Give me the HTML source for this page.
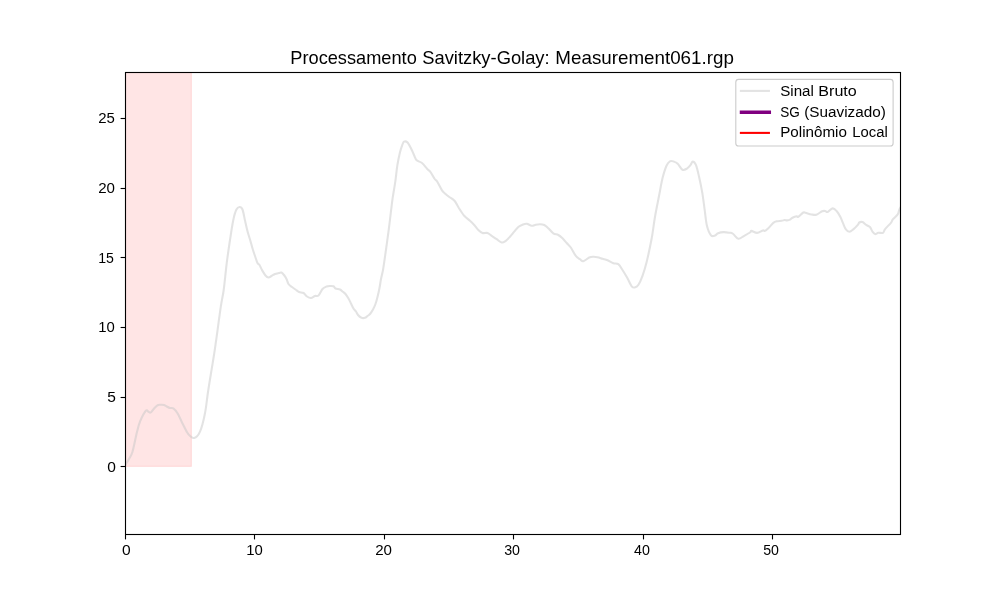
<!DOCTYPE html>
<html><head><meta charset="utf-8"><style>
html,body{margin:0;padding:0;background:#fff;}
body{width:1000px;height:600px;overflow:hidden;}
svg{display:block;will-change:transform;font-family:"Liberation Sans", sans-serif;}
text{fill:#000;}
</style></head><body>
<svg width="1000" height="600" viewBox="0 0 1000 600">
<defs><clipPath id="ax"><rect x="125" y="72" width="775" height="462"/></clipPath></defs>
<rect width="1000" height="600" fill="#fff"/>
<g clip-path="url(#ax)"><rect x="124" y="60" width="67.35" height="406.35" fill="#ff0000" fill-opacity="0.1" stroke="#ff0000" stroke-opacity="0.1" stroke-width="1.1"/></g>
<g clip-path="url(#ax)"><path d="M125.50,464.50 C126.08,463.58 127.83,461.13 129.00,459.00 C130.17,456.87 131.22,455.98 132.50,451.70 C133.78,447.42 135.45,438.30 136.70,433.30 C137.95,428.30 138.48,425.45 140.00,421.70 C141.52,417.95 144.38,412.45 145.80,410.80 C147.22,409.15 147.67,411.52 148.50,411.80 C149.33,412.08 149.72,413.22 150.80,412.50 C151.88,411.78 153.77,408.75 155.00,407.50 C156.23,406.25 157.17,405.45 158.20,405.00 C159.23,404.55 160.23,404.80 161.20,404.80 C162.17,404.80 163.15,404.77 164.00,405.00 C164.85,405.23 165.30,405.70 166.30,406.20 C167.30,406.70 168.83,407.65 170.00,408.00 C171.17,408.35 172.05,407.42 173.30,408.30 C174.55,409.18 175.83,410.52 177.50,413.30 C179.17,416.08 181.50,421.52 183.30,425.00 C185.10,428.48 186.48,432.03 188.30,434.20 C190.12,436.37 192.25,438.42 194.20,438.00 C196.15,437.58 198.20,435.82 200.00,431.70 C201.80,427.58 203.62,420.25 205.00,413.30 C206.38,406.35 206.63,400.83 208.30,390.00 C209.97,379.17 212.92,362.18 215.00,348.30 C217.08,334.42 219.35,316.42 220.80,306.70 C222.25,296.98 222.72,297.23 223.70,290.00 C224.68,282.77 225.65,271.63 226.70,263.30 C227.75,254.97 228.90,247.22 230.00,240.00 C231.10,232.78 232.25,225.03 233.30,220.00 C234.35,214.97 235.25,211.97 236.30,209.80 C237.35,207.63 238.57,207.05 239.60,207.00 C240.63,206.95 241.60,207.25 242.50,209.50 C243.40,211.75 244.17,216.88 245.00,220.50 C245.83,224.12 246.62,227.87 247.50,231.20 C248.38,234.53 249.38,237.37 250.30,240.50 C251.22,243.63 252.22,247.42 253.00,250.00 C253.78,252.58 254.25,253.83 255.00,256.00 C255.75,258.17 256.75,261.50 257.50,263.00 C258.25,264.50 258.75,263.83 259.50,265.00 C260.25,266.17 261.00,268.25 262.00,270.00 C263.00,271.75 264.42,274.25 265.50,275.50 C266.58,276.75 267.50,277.42 268.50,277.50 C269.50,277.58 270.42,276.58 271.50,276.00 C272.58,275.42 273.75,274.50 275.00,274.00 C276.25,273.50 277.92,273.25 279.00,273.00 C280.08,272.75 280.67,272.17 281.50,272.50 C282.33,272.83 283.17,273.92 284.00,275.00 C284.83,276.08 285.75,277.50 286.50,279.00 C287.25,280.50 287.58,282.67 288.50,284.00 C289.42,285.33 290.83,286.08 292.00,287.00 C293.17,287.92 294.33,288.67 295.50,289.50 C296.67,290.33 297.67,291.42 299.00,292.00 C300.33,292.58 302.17,292.25 303.50,293.00 C304.83,293.75 305.75,295.67 307.00,296.50 C308.25,297.33 309.67,298.08 311.00,298.00 C312.33,297.92 313.75,296.42 315.00,296.00 C316.25,295.58 317.25,296.67 318.50,295.50 C319.75,294.33 321.17,290.50 322.50,289.00 C323.83,287.50 325.25,287.00 326.50,286.50 C327.75,286.00 328.83,286.03 330.00,286.00 C331.17,285.97 332.58,285.88 333.50,286.30 C334.42,286.72 334.42,287.97 335.50,288.50 C336.58,289.03 338.83,289.00 340.00,289.50 C341.17,290.00 341.58,290.75 342.50,291.50 C343.42,292.25 344.50,292.83 345.50,294.00 C346.50,295.17 347.58,296.92 348.50,298.50 C349.42,300.08 350.17,301.83 351.00,303.50 C351.83,305.17 352.67,307.17 353.50,308.50 C354.33,309.83 355.25,310.42 356.00,311.50 C356.75,312.58 357.08,313.95 358.00,315.00 C358.92,316.05 360.33,317.33 361.50,317.80 C362.67,318.27 364.00,318.10 365.00,317.80 C366.00,317.50 366.67,316.63 367.50,316.00 C368.33,315.37 369.08,315.08 370.00,314.00 C370.92,312.92 372.08,311.17 373.00,309.50 C373.92,307.83 374.75,306.08 375.50,304.00 C376.25,301.92 376.83,299.67 377.50,297.00 C378.17,294.33 378.92,291.00 379.50,288.00 C380.08,285.00 380.42,282.00 381.00,279.00 C381.58,276.00 382.33,273.72 383.00,270.00 C383.67,266.28 384.05,263.37 385.00,256.70 C385.95,250.03 387.75,237.17 388.70,230.00 C389.65,222.83 390.03,219.08 390.70,213.70 C391.37,208.32 391.93,203.03 392.70,197.70 C393.47,192.37 394.53,187.03 395.30,181.70 C396.07,176.37 396.52,170.60 397.30,165.70 C398.08,160.80 399.17,155.75 400.00,152.30 C400.83,148.85 401.63,146.77 402.30,145.00 C402.97,143.23 403.17,142.15 404.00,141.70 C404.83,141.25 406.08,141.08 407.30,142.30 C408.52,143.52 410.18,146.88 411.30,149.00 C412.42,151.12 413.10,153.12 414.00,155.00 C414.90,156.88 415.37,158.97 416.70,160.30 C418.03,161.63 420.23,161.55 422.00,163.00 C423.77,164.45 425.85,167.45 427.30,169.00 C428.75,170.55 429.47,170.63 430.70,172.30 C431.93,173.97 433.60,177.43 434.70,179.00 C435.80,180.57 436.08,179.82 437.30,181.70 C438.52,183.58 440.67,188.30 442.00,190.30 C443.33,192.30 444.08,192.58 445.30,193.70 C446.52,194.82 447.73,195.78 449.30,197.00 C450.87,198.22 453.13,199.22 454.70,201.00 C456.27,202.78 457.12,205.23 458.70,207.70 C460.28,210.17 462.32,213.62 464.20,215.80 C466.08,217.98 468.33,219.27 470.00,220.80 C471.67,222.33 472.82,223.47 474.20,225.00 C475.58,226.53 476.92,228.67 478.30,230.00 C479.68,231.33 480.97,232.50 482.50,233.00 C484.03,233.50 485.97,232.53 487.50,233.00 C489.03,233.47 490.17,234.77 491.70,235.80 C493.23,236.83 495.03,238.08 496.70,239.20 C498.37,240.32 500.18,242.23 501.70,242.50 C503.22,242.77 504.42,241.77 505.80,240.80 C507.18,239.83 508.60,238.22 510.00,236.70 C511.40,235.18 512.82,233.32 514.20,231.70 C515.58,230.08 516.92,228.17 518.30,227.00 C519.68,225.83 521.10,225.25 522.50,224.70 C523.90,224.15 525.17,223.52 526.70,223.70 C528.23,223.88 530.18,225.63 531.70,225.80 C533.22,225.97 534.42,224.97 535.80,224.70 C537.18,224.43 538.60,224.15 540.00,224.20 C541.40,224.25 542.82,224.32 544.20,225.00 C545.58,225.68 546.78,226.92 548.30,228.30 C549.82,229.68 551.63,232.18 553.30,233.30 C554.97,234.42 556.77,234.17 558.30,235.00 C559.83,235.83 561.10,236.97 562.50,238.30 C563.90,239.63 565.32,241.47 566.70,243.00 C568.08,244.53 569.28,245.37 570.80,247.50 C572.32,249.63 574.27,253.85 575.80,255.80 C577.33,257.75 578.75,258.28 580.00,259.20 C581.25,260.12 581.77,261.58 583.30,261.30 C584.83,261.02 587.53,258.27 589.20,257.50 C590.87,256.73 591.92,256.75 593.30,256.70 C594.68,256.65 595.97,256.85 597.50,257.20 C599.03,257.55 600.83,258.28 602.50,258.80 C604.17,259.32 605.70,259.55 607.50,260.30 C609.30,261.05 611.50,262.65 613.30,263.30 C615.10,263.95 616.77,263.08 618.30,264.20 C619.83,265.32 620.97,267.65 622.50,270.00 C624.03,272.35 625.97,275.58 627.50,278.30 C629.03,281.02 630.50,284.77 631.70,286.30 C632.90,287.83 633.60,287.72 634.70,287.50 C635.80,287.28 637.00,286.95 638.30,285.00 C639.60,283.05 641.10,279.68 642.50,275.80 C643.90,271.92 645.17,267.95 646.70,261.70 C648.23,255.45 650.32,245.80 651.70,238.30 C653.08,230.80 653.75,223.92 655.00,216.70 C656.25,209.48 657.95,201.40 659.20,195.00 C660.45,188.60 661.27,183.22 662.50,178.30 C663.73,173.38 665.30,168.35 666.60,165.50 C667.90,162.65 669.10,161.85 670.30,161.20 C671.50,160.55 672.57,161.17 673.80,161.60 C675.03,162.03 676.25,162.43 677.70,163.80 C679.15,165.17 680.92,169.03 682.50,169.80 C684.08,170.57 685.88,169.17 687.20,168.40 C688.52,167.63 689.47,166.33 690.40,165.20 C691.33,164.07 691.87,161.60 692.80,161.60 C693.73,161.60 694.95,162.63 696.00,165.20 C697.05,167.77 698.05,172.40 699.10,177.00 C700.15,181.60 701.37,187.27 702.30,192.80 C703.23,198.33 703.92,204.67 704.70,210.20 C705.48,215.73 705.95,221.82 707.00,226.00 C708.05,230.18 709.67,233.70 711.00,235.30 C712.33,236.90 713.82,235.95 715.00,235.60 C716.18,235.25 716.65,233.78 718.10,233.20 C719.55,232.62 721.85,232.18 723.70,232.10 C725.55,232.02 727.67,232.42 729.20,232.70 C730.73,232.97 731.38,232.74 732.90,233.75 C734.42,234.76 736.42,238.41 738.30,238.75 C740.18,239.09 742.25,236.84 744.20,235.80 C746.15,234.76 748.78,233.32 750.00,232.50 C751.22,231.68 750.32,230.83 751.50,230.90 C752.68,230.97 755.20,232.98 757.10,232.90 C759.00,232.82 761.65,230.72 762.90,230.40 C764.15,230.08 763.70,231.35 764.60,231.00 C765.50,230.65 766.85,229.65 768.30,228.30 C769.75,226.95 771.83,224.08 773.30,222.90 C774.77,221.72 775.70,221.60 777.10,221.25 C778.50,220.90 780.45,221.01 781.70,220.80 C782.95,220.59 783.70,220.07 784.60,220.00 C785.50,219.93 786.20,220.47 787.10,220.40 C788.00,220.33 789.10,220.05 790.00,219.60 C790.90,219.15 791.38,218.26 792.50,217.70 C793.62,217.14 795.73,216.40 796.70,216.25 C797.67,216.10 797.20,217.43 798.30,216.80 C799.40,216.18 802.10,213.17 803.30,212.50 C804.50,211.83 804.12,212.48 805.50,212.80 C806.88,213.12 809.80,214.08 811.60,214.40 C813.40,214.72 814.55,215.22 816.30,214.70 C818.05,214.18 820.62,211.92 822.10,211.30 C823.58,210.68 824.30,210.88 825.20,211.00 C826.10,211.12 826.27,212.43 827.50,212.00 C828.73,211.57 831.05,208.52 832.60,208.40 C834.15,208.28 835.50,209.85 836.80,211.30 C838.10,212.75 839.35,215.08 840.40,217.10 C841.45,219.12 842.22,221.40 843.10,223.40 C843.98,225.40 844.65,227.70 845.70,229.10 C846.75,230.50 848.08,231.80 849.40,231.80 C850.72,231.80 852.20,230.25 853.60,229.10 C855.00,227.95 856.85,226.00 857.80,224.90 C858.75,223.80 858.52,222.97 859.30,222.50 C860.08,222.03 861.35,221.70 862.50,222.10 C863.65,222.50 864.97,224.08 866.20,224.90 C867.43,225.72 868.85,225.88 869.90,227.00 C870.95,228.12 871.63,230.42 872.50,231.60 C873.37,232.78 874.13,233.90 875.10,234.10 C876.07,234.30 876.98,233.02 878.30,232.80 C879.62,232.58 881.87,233.42 883.00,232.80 C884.13,232.18 883.78,230.77 885.10,229.10 C886.42,227.43 889.58,224.45 890.90,222.80 C892.22,221.15 891.87,220.60 893.00,219.20 C894.13,217.80 896.65,215.98 897.70,214.40 C898.75,212.82 898.58,211.27 899.30,209.70 C900.02,208.13 901.55,205.78 902.00,205.00" fill="none" stroke="#c6c6c6" stroke-opacity="0.49" stroke-width="2.08" stroke-linejoin="round" stroke-linecap="square"/></g>
<rect x="125.5" y="72.5" width="775" height="462" fill="none" stroke="#000" stroke-width="1.11"/>
<line x1="125.50" y1="534.5" x2="125.50" y2="539.4" stroke="#000" stroke-width="1.11"/>
<line x1="254.50" y1="534.5" x2="254.50" y2="539.4" stroke="#000" stroke-width="1.11"/>
<line x1="384.50" y1="534.5" x2="384.50" y2="539.4" stroke="#000" stroke-width="1.11"/>
<line x1="513.50" y1="534.5" x2="513.50" y2="539.4" stroke="#000" stroke-width="1.11"/>
<line x1="643.50" y1="534.5" x2="643.50" y2="539.4" stroke="#000" stroke-width="1.11"/>
<line x1="772.50" y1="534.5" x2="772.50" y2="539.4" stroke="#000" stroke-width="1.11"/>
<line x1="120.6" y1="466.50" x2="125.5" y2="466.50" stroke="#000" stroke-width="1.11"/>
<line x1="120.6" y1="397.50" x2="125.5" y2="397.50" stroke="#000" stroke-width="1.11"/>
<line x1="120.6" y1="327.50" x2="125.5" y2="327.50" stroke="#000" stroke-width="1.11"/>
<line x1="120.6" y1="257.50" x2="125.5" y2="257.50" stroke="#000" stroke-width="1.11"/>
<line x1="120.6" y1="188.50" x2="125.5" y2="188.50" stroke="#000" stroke-width="1.11"/>
<line x1="120.6" y1="118.50" x2="125.5" y2="118.50" stroke="#000" stroke-width="1.11"/>
<text x="290.32" y="63.70" font-size="17.70" textLength="126.48" lengthAdjust="spacingAndGlyphs">Processamento</text>
<text x="422.24" y="63.70" font-size="17.70" textLength="127.42" lengthAdjust="spacingAndGlyphs">Savitzky-Golay:</text>
<text x="555.38" y="63.70" font-size="17.70" textLength="178.48" lengthAdjust="spacingAndGlyphs">Measurement061.rgp</text>
<text x="122.14" y="554.96" font-size="14.70" textLength="8.66" lengthAdjust="spacingAndGlyphs">0</text>
<text x="246.24" y="554.96" font-size="14.70" textLength="16.56" lengthAdjust="spacingAndGlyphs">10</text>
<text x="375.16" y="554.96" font-size="14.70" textLength="16.80" lengthAdjust="spacingAndGlyphs">20</text>
<text x="504.16" y="554.96" font-size="14.70" textLength="15.84" lengthAdjust="spacingAndGlyphs">30</text>
<text x="634.10" y="554.96" font-size="14.70" textLength="15.86" lengthAdjust="spacingAndGlyphs">40</text>
<text x="763.18" y="554.96" font-size="14.70" textLength="15.76" lengthAdjust="spacingAndGlyphs">50</text>
<text x="107.16" y="471.94" font-size="14.70" textLength="8.64" lengthAdjust="spacingAndGlyphs">0</text>
<text x="107.16" y="401.94" font-size="14.70" textLength="8.64" lengthAdjust="spacingAndGlyphs">5</text>
<text x="98.24" y="331.96" font-size="14.70" textLength="16.56" lengthAdjust="spacingAndGlyphs">10</text>
<text x="98.24" y="262.94" font-size="14.70" textLength="15.72" lengthAdjust="spacingAndGlyphs">15</text>
<text x="98.16" y="192.96" font-size="14.70" textLength="16.80" lengthAdjust="spacingAndGlyphs">20</text>
<text x="98.16" y="122.96" font-size="14.70" textLength="16.68" lengthAdjust="spacingAndGlyphs">25</text>
<rect x="735.8" y="79.4" width="157.3" height="66.6" rx="2.8" fill="#fff" fill-opacity="0.8" stroke="#cccccc" stroke-width="1.11"/>
<text x="780.20" y="96.00" font-size="14.70" textLength="33.62" lengthAdjust="spacingAndGlyphs">Sinal</text>
<text x="818.36" y="96.00" font-size="14.70" textLength="38.42" lengthAdjust="spacingAndGlyphs">Bruto</text>
<text x="780.14" y="117.10" font-size="14.70" textLength="19.60" lengthAdjust="spacingAndGlyphs">SG</text>
<text x="804.26" y="117.10" font-size="14.70" textLength="81.60" lengthAdjust="spacingAndGlyphs">(Suavizado)</text>
<text x="780.20" y="137.00" font-size="14.70" textLength="66.74" lengthAdjust="spacingAndGlyphs">Polinômio</text>
<text x="852.20" y="137.00" font-size="14.70" textLength="35.54" lengthAdjust="spacingAndGlyphs">Local</text>
<line x1="740.90" y1="90.90" x2="768.90" y2="90.90" stroke="#c6c6c6" stroke-opacity="0.49" stroke-width="2.08" stroke-linecap="square"/>
<line x1="741.50" y1="112.25" x2="769.30" y2="112.25" stroke="#800080" stroke-opacity="1" stroke-width="3.47" stroke-linecap="square"/>
<line x1="740.90" y1="132.90" x2="768.90" y2="132.90" stroke="#ff0000" stroke-opacity="1" stroke-width="2.08" stroke-linecap="square"/>
</svg>
</body></html>
